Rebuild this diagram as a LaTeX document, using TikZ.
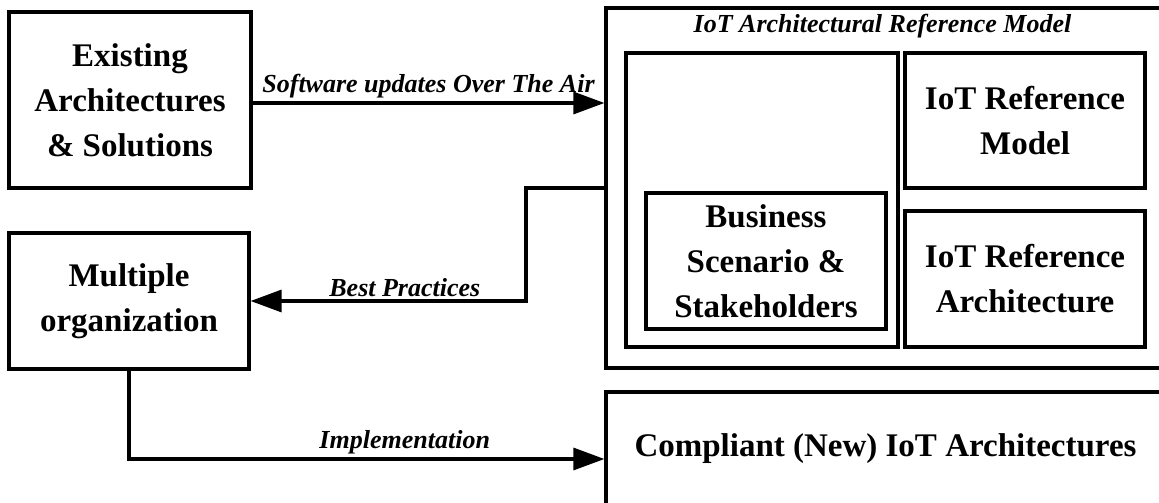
\documentclass[tikz,border=0pt]{standalone}
\usepackage{fontspec}
\setmainfont{Liberation Serif}
\usetikzlibrary{arrows.meta, positioning}

\begin{document}
\begin{tikzpicture}
  [x=1pt, y=1pt,
  % block
  block/.style = {rectangle,
    draw, line width=3.2pt,
    align=center, inner sep=0pt,
    font=\fontsize{33}{45}\selectfont\bfseries},
  % label
  lbl/.style = {inner sep=3pt,
    font=\fontsize{26}{30}\selectfont\bfseries\itshape},
  % line
  line/.style = {draw, line width=3.2pt,
    -{Triangle[length=31pt, width=22pt]}},
  ]

  \useasboundingbox (0,0) rectangle (1159,-503);

  % nodes
  \node [block, minimum width=242pt, minimum height=176pt] (exist) at (130,-100)
    {Existing\\Architectures\\\& Solutions};
  \node [block, minimum width=240pt, minimum height=136pt] (multi) at (129,-301)
    {Multiple\\organization};
  \node [block, minimum width=559pt, minimum height=360pt] (model) at (885.5,-188) {};
  \node [lbl, below=5pt of model.north, xshift=-3pt] (title) {IoT Architectural Reference Model};
  \node [block, minimum width=272pt, minimum height=294pt] (scen) at (762,-200) {};
  \node [block, minimum width=240pt, minimum height=136pt] (biz) at (766,-261)
    {Business\\Scenario \&\\Stakeholders};
  \node [block, minimum width=240pt, minimum height=135pt] (refmod) at (1025,-120.5)
    {IoT Reference\\Model};
  \node [block, minimum width=240pt, minimum height=136pt] (refarch) at (1025,-279)
    {IoT Reference\\Architecture};
  \node [block, minimum width=559pt, minimum height=114pt] (compl) at (885.5,-449)
    {Compliant (New) IoT Architectures};

  \coordinate (sw) at (0,-103);
  \coordinate (bend) at (526,-188);
  \coordinate (impl) at (0,-459);

  % path
  \path [line] (exist.east |- sw) -- (sw -| model.west)
    node [lbl, midway, above] {Software updates Over The Air};
  \path [line] (model.west |- bend) -- (bend) |- (multi.east)
    node [lbl, pos=0.72, above] {Best Practices};
  \path [line] (multi.south) |- (impl -| compl.west)
    node [lbl, pos=0.79, above] {Implementation};

\end{tikzpicture}
\end{document}
